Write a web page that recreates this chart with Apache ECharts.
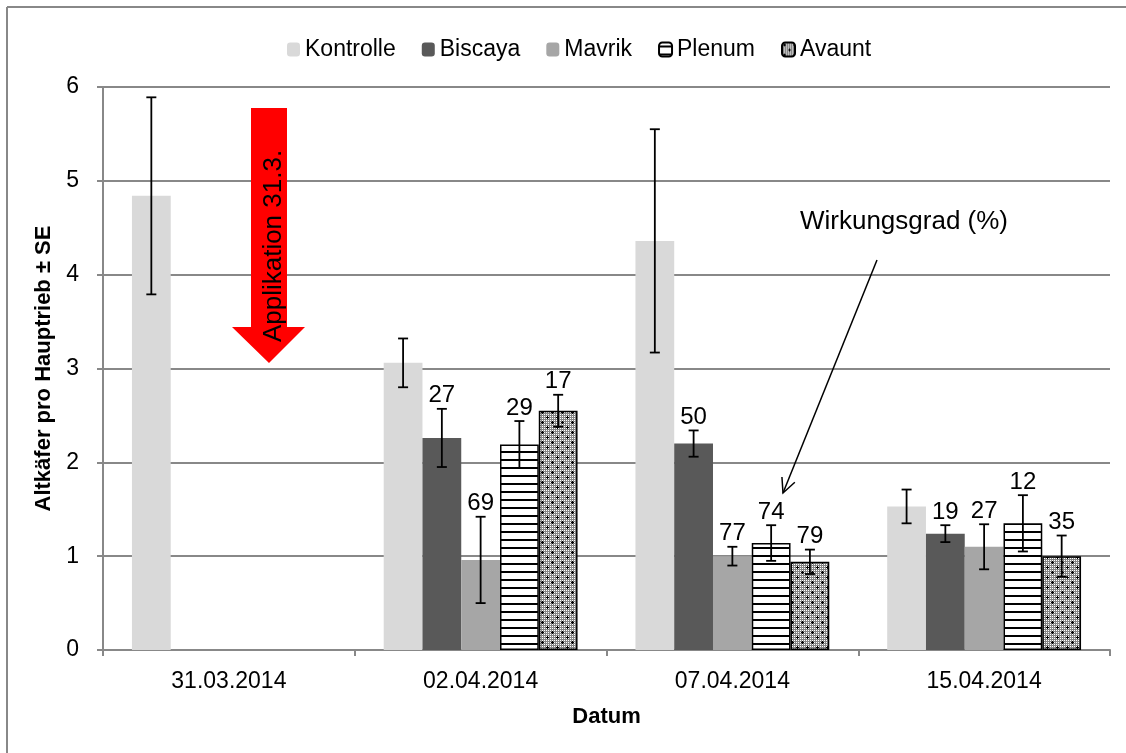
<!DOCTYPE html>
<html><head><meta charset="utf-8">
<script src="https://cdn.jsdelivr.net/npm/echarts@6/dist/echarts.min.js"></script>
<style>html,body{margin:0;padding:0;background:#fff}#c{width:1126px;height:753px}</style>
</head><body><div id="c"></div>
<script>
// ---- data ----
const categories = ['31.03.2014', '02.04.2014', '07.04.2014', '15.04.2014'];
const seriesNames = ['Kontrolle', 'Biscaya', 'Mavrik', 'Plenum', 'Avaunt'];
const kontrolle   = [4.84, 3.06, 4.36, 1.53];
const kontrolleSE = [1.05, 0.26, 1.19, 0.18];
const biscaya     = [null, 2.26, 2.20, 1.24];
const biscayaSE   = [null, 0.31, 0.14, 0.09];
const mavrik      = [null, 0.96, 1.00, 1.10];
const mavrikSE    = [null, 0.46, 0.10, 0.24];
const plenum      = [null, 2.19, 1.14, 1.35];
const plenumSE    = [null, 0.25, 0.19, 0.30];
const avaunt      = [null, 2.55, 0.94, 1.00];
const avauntSE    = [null, 0.17, 0.13, 0.22];
// Wirkungsgrad (%) labels
const kontrolleWG = [null, null, null, null];
const biscayaWG   = [null, 27, 50, 19];
const mavrikWG    = [null, 69, 77, 27];
const plenumWG    = [null, 29, 74, 12];
const avauntWG    = [null, 17, 79, 35];
const yTicks = [0, 1, 2, 3, 4, 5, 6];

const FONT = '"Liberation Sans", Arial, sans-serif';
const CAT_GAP = 0.23;

function stripeCanvas() {
  const c = document.createElement('canvas'); c.width = 8; c.height = 8;
  const g = c.getContext('2d');
  g.fillStyle = '#fff'; g.fillRect(0, 0, 8, 8);
  g.fillStyle = '#000'; g.fillRect(0, 3, 8, 2);
  return c;
}
function dotCanvas() {
  const c = document.createElement('canvas'); c.width = 10; c.height = 10;
  const g = c.getContext('2d');
  g.fillStyle = '#858585'; g.fillRect(0, 0, 10, 10);
  g.fillStyle = '#ffffff';
  for (let x = 0; x < 10; x += 2) for (let y = 0; y < 10; y += 2) g.fillRect(x, y, 1, 1);
  g.fillStyle = '#000';
  [[2, 2], [7, 7]].forEach(([px, py]) => {
    g.fillRect(px - 1, py, 3, 1); g.fillRect(px, py - 1, 1, 3);
  });
  return c;
}

const values = [kontrolle, biscaya, mavrik, plenum, avaunt];
const ses = [kontrolleSE, biscayaSE, mavrikSE, plenumSE, avauntSE];
const wgs = [kontrolleWG, biscayaWG, mavrikWG, plenumWG, avauntWG];
const styles = [
  { color: '#d9d9d9' },
  { color: '#595959' },
  { color: '#a6a6a6' },
  { color: { image: stripeCanvas(), repeat: 'repeat' }, borderColor: '#000', borderWidth: 1.5 },
  { color: { image: dotCanvas(), repeat: 'repeat' }, borderColor: '#000', borderWidth: 1.5 }
];

const errData = [];
values.forEach((arr, s) => arr.forEach((v, i) => {
  if (v != null) errData.push([i, s, v, ses[s][i], wgs[s][i] == null ? -1 : wgs[s][i]]);
}));

function renderErr(params, api) {
  const cat = api.value(0), s = api.value(1), v = api.value(2), se = api.value(3), lab = api.value(4);
  const c = api.coord([cat, v]);
  const band = api.size([1, 0])[0];
  const bw = band * (1 - CAT_GAP) / 5;
  const x = c[0] + (s - 2) * bw;
  const top = api.coord([cat, v + se])[1];
  const bot = api.coord([cat, v - se])[1];
  const ls = { stroke: '#000', lineWidth: 1.8 };
  const ch = [
    { type: 'line', shape: { x1: x, y1: top, x2: x, y2: bot }, style: ls },
    { type: 'line', shape: { x1: x - 5, y1: top, x2: x + 5, y2: top }, style: ls },
    { type: 'line', shape: { x1: x - 5, y1: bot, x2: x + 5, y2: bot }, style: ls }
  ];
  if (lab >= 0) {
    ch.push({ type: 'text', x: x, y: top - 1, style: { text: String(lab), align: 'center', verticalAlign: 'bottom', fontSize: 24, fontFamily: FONT, fill: '#000' } });
  }
  return { type: 'group', children: ch };
}

const series = seriesNames.map((n, s) => ({
  name: n, type: 'bar', data: values[s], barGap: 0, barCategoryGap: (CAT_GAP * 100) + '%',
  itemStyle: styles[s], emphasis: { disabled: true }
}));
series.push({
  name: 'SE', type: 'custom', data: errData, renderItem: renderErr, z: 5,
  encode: { x: 0, y: 2 }, silent: true
});

// Annotation arrow "Wirkungsgrad"
const ax1 = 877, ay1 = 260, ax2 = 783, ay2 = 493;
const ang = Math.atan2(ay2 - ay1, ax2 - ax1);
const hl = 16, ha = 0.45;
const h1 = [ax2 - hl * Math.cos(ang - ha), ay2 - hl * Math.sin(ang - ha)];
const h2 = [ax2 - hl * Math.cos(ang + ha), ay2 - hl * Math.sin(ang + ha)];

const chart = echarts.init(document.getElementById('c'), null, { renderer: 'canvas' });
chart.setOption({
  animation: false,
  backgroundColor: '#fff',
  textStyle: { fontFamily: FONT },
  legend: {
    data: seriesNames, top: 33, left: 282, itemWidth: 13, itemHeight: 14, itemGap: 26,
    textStyle: { fontSize: 23, color: '#000', fontFamily: FONT }, selectedMode: false
  },
  grid: { left: 103, right: 16, top: 87, bottom: 103, containLabel: false },
  xAxis: {
    type: 'category', data: categories,
    axisLine: { lineStyle: { color: '#888', width: 2 } },
    axisTick: { show: true, length: 6, lineStyle: { color: '#888', width: 2 } },
    axisLabel: { fontSize: 23, color: '#000', margin: 20, fontFamily: FONT },
    name: 'Datum', nameLocation: 'middle', nameGap: 56,
    nameTextStyle: { fontSize: 22, fontWeight: 'bold', color: '#000', fontFamily: FONT }
  },
  yAxis: {
    type: 'value', min: yTicks[0], max: yTicks[yTicks.length - 1], interval: 1,
    axisLine: { show: true, lineStyle: { color: '#888', width: 2 } },
    axisTick: { show: true, length: 6, lineStyle: { color: '#888', width: 2 } },
    splitLine: { lineStyle: { color: '#888', width: 2 } },
    axisLabel: { fontSize: 23, color: '#000', margin: 24, fontFamily: FONT },
    name: 'Altkäfer pro Hauptrieb ± SE', nameLocation: 'middle', nameGap: 38,
    nameTextStyle: { fontSize: 22, fontWeight: 'bold', color: '#000', fontFamily: FONT }
  },
  series: series,
  graphic: [
    { type: 'line', shape: { x1: 7, y1: 7, x2: 1126, y2: 7 }, style: { stroke: '#888', lineWidth: 2 } },
    { type: 'line', shape: { x1: 7, y1: 7, x2: 7, y2: 753 }, style: { stroke: '#888', lineWidth: 2 } },
    { type: 'polygon', z: 10,
      shape: { points: [[251, 108], [287, 108], [287, 327], [305, 327], [269, 363], [232, 327], [251, 327]] },
      style: { fill: '#ff0000' } },
    { type: 'text', z: 11, x: 274, y: 246, rotation: Math.PI / 2,
      style: { text: 'Applikation 31.3.', align: 'center', verticalAlign: 'middle', fontSize: 26, fontFamily: FONT, fill: '#000' } },
    { type: 'text', z: 11, x: 904, y: 222,
      style: { text: 'Wirkungsgrad (%)', align: 'center', verticalAlign: 'middle', fontSize: 26, fontFamily: FONT, fill: '#000' } },
    { type: 'line', z: 11, shape: { x1: ax1, y1: ay1, x2: ax2, y2: ay2 }, style: { stroke: '#000', lineWidth: 1.5 } },
    { type: 'polyline', z: 11, shape: { points: [h1, [ax2, ay2], h2] }, style: { stroke: '#000', lineWidth: 1.5, fill: null } }
  ]
});
</script>
</body></html>
